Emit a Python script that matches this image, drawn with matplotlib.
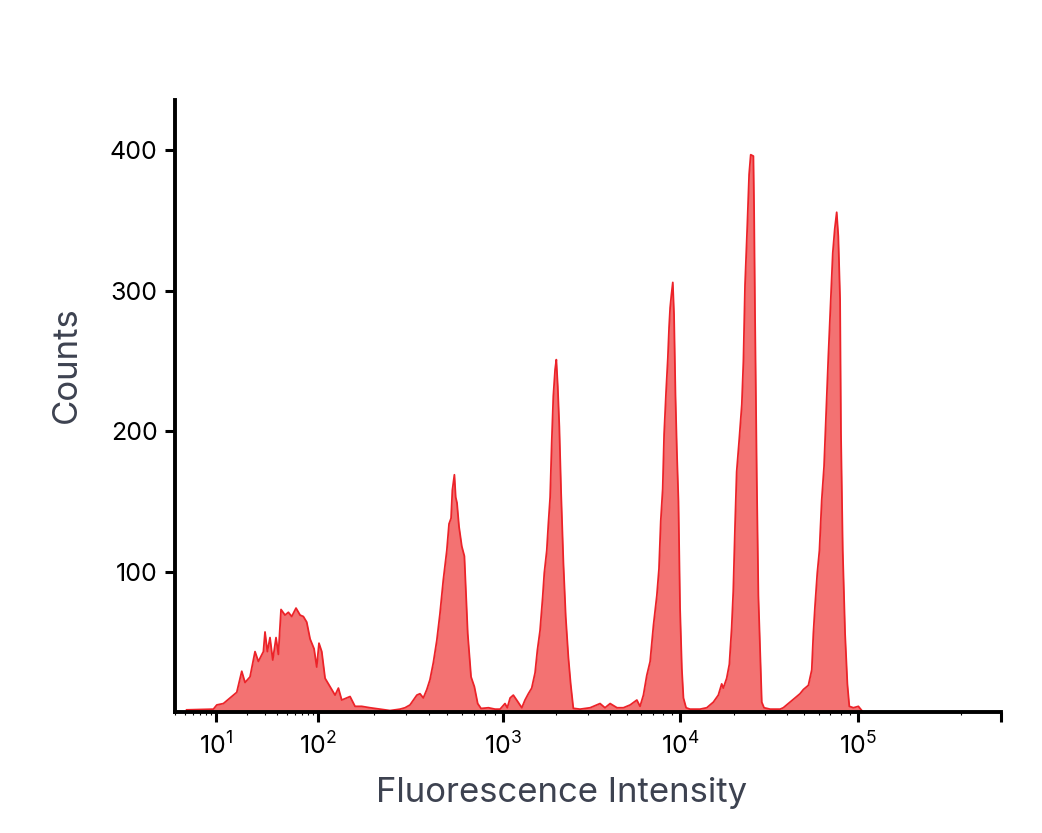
import matplotlib
matplotlib.use("Agg")
import matplotlib.pyplot as plt
import numpy as np
from matplotlib.ticker import FixedLocator, NullFormatter

plt.rcParams["font.family"] = ["Inter", "DejaVu Sans"]
plt.rcParams["mathtext.default"] = "regular"

# histogram outline, x as log10(intensity)
seg1_log = [0.713, 0.974, 1.007, 1.072, 1.154, 1.203, 1.252, 1.284, 1.333, 1.382,
            1.415, 1.464, 1.480, 1.503, 1.529, 1.556, 1.588, 1.611, 1.637, 1.676,
            1.709, 1.742, 1.784, 1.824, 1.856, 1.889, 1.922, 1.961, 1.987, 2.005,
            2.020, 2.038, 2.065, 2.092, 2.110, 2.128, 2.173, 2.200, 2.236, 2.281]
seg1_counts = [1.5, 2, 5, 6, 11, 14, 29, 21, 25, 43,
               36, 43, 57, 43, 53, 37, 53, 41, 73, 69,
               71, 68, 74, 69, 68, 64, 52, 45, 32, 49,
               43, 24, 18, 12, 17, 8.5, 11, 4, 4, 3]

seg2_log = [2.335, 2.389, 2.443, 2.470, 2.497, 2.534, 2.551, 2.569, 2.588, 2.605,
            2.623, 2.642, 2.659, 2.677, 2.696, 2.708, 2.719, 2.726, 2.737, 2.744,
            2.751, 2.762, 2.777, 2.791, 2.798, 2.809, 2.827, 2.845, 2.863, 2.881,
            2.921, 2.957, 2.984]
seg2_counts = [2, 1, 2, 3, 5, 12, 13, 10, 16, 23,
               35, 51, 70, 94, 115, 134, 138, 158, 169, 153,
               149, 132, 118, 111, 89, 56, 25, 18, 6, 2.5,
               3, 2, 2]

seg3_log = [3.011, 3.024, 3.040, 3.058, 3.077, 3.106, 3.124, 3.143, 3.162, 3.181,
            3.194, 3.209, 3.224, 3.233, 3.247, 3.256, 3.266, 3.275, 3.284, 3.294,
            3.301, 3.309, 3.318, 3.328, 3.341, 3.354, 3.369, 3.382, 3.397, 3.435,
            3.492, 3.548, 3.576, 3.605, 3.644, 3.680, 3.718, 3.756, 3.774]
seg3_counts = [6, 3, 10, 12, 8.5, 3, 8.5, 13, 17, 28,
               44, 58, 82, 99, 115, 134, 153, 192, 225, 244,
               251, 232, 203, 156, 106, 68, 39, 20, 2.6, 2,
               3, 6, 3, 6, 3, 3, 5, 8.5, 4]

seg4_log = [3.793, 3.812, 3.831, 3.850, 3.869, 3.881, 3.891, 3.902, 3.910, 3.921,
            3.931, 3.938, 3.944, 3.951, 3.959, 3.966, 3.974, 3.982, 3.991, 4.000,
            4.010, 4.019, 4.034, 4.056, 4.112, 4.150]
seg4_counts = [12, 26, 36, 62, 83, 102, 136, 159, 198, 228,
               252, 274, 288, 297, 306, 283, 226, 186, 150, 74,
               31, 10, 3, 2, 2, 3]

seg5_log = [4.187, 4.215, 4.234, 4.243, 4.262, 4.277, 4.290, 4.299, 4.309, 4.318,
            4.333, 4.347, 4.356, 4.365, 4.378, 4.388, 4.397, 4.412, 4.416, 4.421,
            4.431, 4.440, 4.449, 4.459, 4.472, 4.506, 4.562, 4.580]
seg5_counts = [7, 12, 20, 17, 24, 34, 60, 86, 133, 171,
               195, 219, 250, 304, 347, 383, 397, 396, 357, 285,
               167, 83, 48, 7, 3, 2, 2, 3]

seg6_log = [4.618, 4.646, 4.674, 4.693, 4.721, 4.740, 4.749, 4.758, 4.771, 4.783,
            4.796, 4.809, 4.820, 4.833, 4.847, 4.858, 4.869, 4.880, 4.889, 4.899,
            4.904, 4.914, 4.927, 4.940, 4.951, 4.974, 5.001, 5.011]
seg6_counts = [7, 10, 13, 16, 19, 30, 56, 75, 99, 115,
               151, 175, 211, 253, 294, 327, 344, 356, 339, 294,
               199, 115, 56, 20, 4, 3, 4, 1]

x_ticks = [10, 100, 1e3, 1e4, 1e5, 262144]
x_tick_labels = ["$10^{1}$", "$10^{2}$", "$10^{3}$", "$10^{4}$", "$10^{5}$", ""]
y_ticks = [100, 200, 300, 400]

# biexponential-like display: decades are not equally wide
knot_log = [0.6, 1, 2, 3, 4, 5, np.log10(262144)]
knot_pos = [0, 41, 143, 328, 505, 683, 826]


def fwd(x):
    x = np.asarray(x, dtype=float)
    return np.interp(np.log10(np.clip(x, 1e-3, None)), knot_log, knot_pos)


def inv(p):
    return 10 ** np.interp(np.asarray(p, dtype=float), knot_pos, knot_log)


log_x = np.concatenate([seg1_log, seg2_log, seg3_log, seg4_log, seg5_log, seg6_log])
counts = np.concatenate([seg1_counts, seg2_counts, seg3_counts, seg4_counts,
                         seg5_counts, seg6_counts])
x = 10 ** log_x

fig = plt.figure(figsize=(10.42, 8.33), dpi=100)
ax = fig.add_axes([0.168, 0.1453, 0.7927, 0.7347])
ax.set_xscale("function", functions=(fwd, inv))

ax.fill_between(x, counts, 0, color="#f37272", lw=0)
ax.plot(x, counts, color="#ec2329", lw=1.3)

ax.set_xlim(10 ** 0.6, 262144)
ax.set_ylim(0, 436)

ax.xaxis.set_major_locator(FixedLocator(x_ticks))
ax.set_xticklabels(x_tick_labels)
minor = [m * 10 ** k for k in range(0, 6) for m in range(2, 10)
         if 10 ** 0.6 < m * 10 ** k < 262144]
ax.xaxis.set_minor_locator(FixedLocator(minor))
ax.xaxis.set_minor_formatter(NullFormatter())
ax.set_yticks(y_ticks)

for side in ["top", "right"]:
    ax.spines[side].set_visible(False)
for side in ["left", "bottom"]:
    ax.spines[side].set_linewidth(2.8)
    ax.spines[side].set_color("black")

ax.tick_params(axis="both", which="major", length=7.5, width=2.2, labelsize=18,
               colors="black", pad=5)
ax.tick_params(axis="x", which="major", pad=7)
ax.tick_params(axis="x", which="minor", length=2, width=0.8)

ax.set_xlabel("Fluorescence Intensity", fontsize=25, color="#3d4250")
ax.set_ylabel("Counts", fontsize=25, color="#3d4250")
ax.xaxis.set_label_coords(0.468, -0.106)
ax.yaxis.set_label_coords(-0.111, 0.567)

fig.savefig("out.png", dpi=100)
